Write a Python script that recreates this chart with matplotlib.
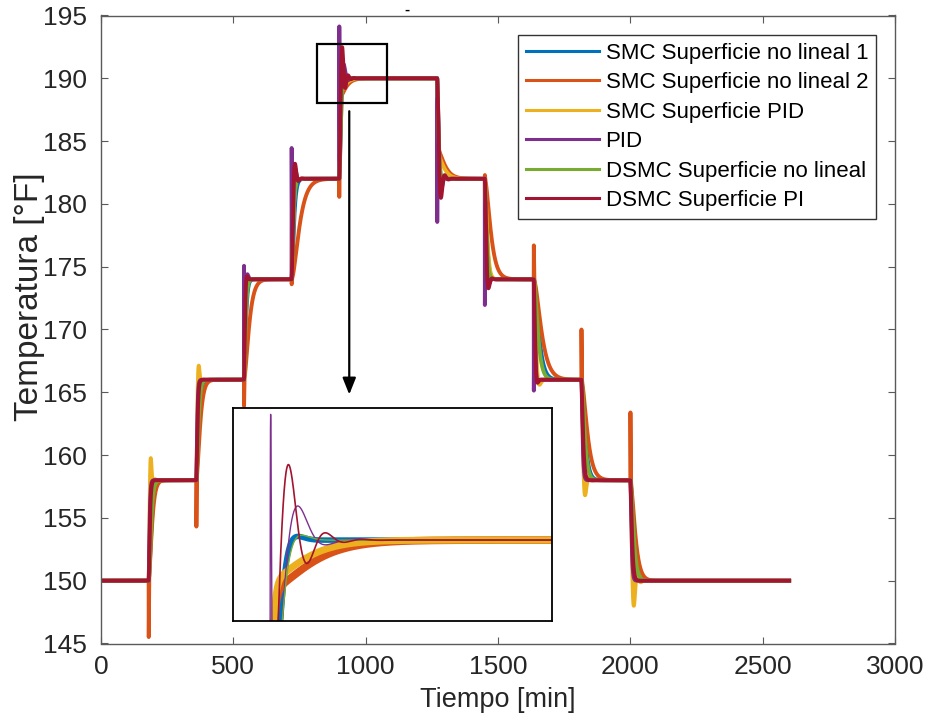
import numpy as np
import matplotlib
matplotlib.use("Agg")
import matplotlib.pyplot as plt
from matplotlib.patches import Rectangle

plt.rcParams['font.family'] = ['Liberation Sans', 'DejaVu Sans']

# Setpoint schedule [min] and temperature levels [°F]
step_times = [180, 360, 540, 720, 900, 1270, 1450, 1635, 1815, 2000]
setpoints = [150, 158, 166, 174, 182, 190, 182, 174, 166, 158, 150]
t_end = 2600

labels = ["SMC Superficie no lineal 1", "SMC Superficie no lineal 2",
          "SMC Superficie PID", "PID", "DSMC Superficie no lineal",
          "DSMC Superficie PI"]
colors = ["#0072BD", "#D95319", "#EDB120", "#7E2F8E", "#77AC30", "#A2142F"]

# Response of each controller to every setpoint change (one entry per change):
#   tau  : time constant of the dominant mode [min]
#   over : fractional overshoot of the dominant mode
#   slow : fraction of the change that follows the dominant mode
#   kick : brief excursion right after the change [°F] (+ along the change)
smc1 = dict(tau=[6, 5, 4, 5, 3.2, 3, 4.5, 11, 8, 7],
            over=[0, 0, 0, 0, 0.015, 0.04, 0, 0, 0, 0],
            slow=[1, 1, 1, 1, 1, 1, 1, 1, 1, 1],
            kick=[0, 0, 0, 0, 0, 0, 0, 0, 0, 0])
smc2 = dict(tau=[7, 8, 11, 17, 14, 16, 13, 17, 13, 10.5],
            over=[0, 0, 0, 0, 0, 0, 0, 0, 0, 0],
            slow=[1, 1, 1, 1, 0.2, 0.3, 1, 1, 1, 1],
            kick=[-4.5, -3.7, -2.1, -0.4, -2.7, 0, -0.3, -2.7, -4.0, -5.4])
smc_pid = dict(tau=[2.3, 2.5, 3, 3.5, 12, 14, 5, 5, 3.8, 3.8],
               over=[0.22, 0.14, 0.02, 0, 0, 0, 0, 0.05, 0.15, 0.25],
               slow=[1, 1, 1, 1, 0.16, 0.25, 1, 1, 1, 1],
               kick=[0, 0, 0, 0, 0, 0, 0, 0, 0, 0])
pid = dict(tau=[2, 2, 3, 3.5, 4.5, 4, 3.5, 3, 2.5, 2.5],
           over=[0, 0, 0.05, 0.1, 0.14, 0.1, 0.05, 0.02, 0, 0],
           slow=[1, 1, 1, 1, 1, 1, 1, 1, 1, 1],
           kick=[0, 0, 9, 10.4, 12.1, 11.4, 10, 8.8, 0, 0])
dsmc_nl = dict(tau=[5, 4.5, 3.5, 3.5, 3.8, 3, 4, 9, 7, 7],
               over=[0, 0, 0, 0, 0.02, 0, 0, 0, 0, 0],
               slow=[1, 1, 1, 1, 1, 1, 1, 1, 1, 1],
               kick=[0, 0, 0, 0, 0, 0, 0, 0, 0, 0])
dsmc_pi = dict(tau=[2.5, 2.5, 2.5, 3.5, 3.3, 4.0, 3.5, 3, 3.5, 3.5],
               over=[0, 0, 0.03, 0.15, 0.31, 0.19, 0.09, 0.03, 0, 0],
               slow=[1, 1, 1, 1, 1, 1, 1, 1, 1, 1],
               kick=[0, 0, 0, 0, 0, 0, 0, 0, 0, 0])
controllers = [smc1, smc2, smc_pid, pid, dsmc_nl, dsmc_pi]

FAST_TAU = 1.5   # fast part of the transition [min]
KICK_W = 0.4     # duration of the initial excursion [min]


def mode(s, tau, over):
    """Normalised error of a second-order mode (1 at s=0, 0 when settled)."""
    if over <= 0:
        x = s / tau
        return (1 + x) * np.exp(-x)
    lo = np.log(over)
    z = -lo / np.sqrt(np.pi ** 2 + lo ** 2)
    wn = 1.0 / tau
    wd = wn * np.sqrt(1 - z * z)
    return np.exp(-z * wn * s) * (np.cos(wd * s) + z / np.sqrt(1 - z * z) * np.sin(wd * s))


def response(p, t):
    y = np.full_like(t, setpoints[0], dtype=float)
    for k, t0 in enumerate(step_times):
        a, b = setpoints[k], setpoints[k + 1]
        d = np.sign(b - a)
        m = t >= t0
        s = t[m] - t0
        r = p["slow"][k]
        err = (a - b) * ((1 - r) * np.exp(-s / FAST_TAU) + r * mode(s, p["tau"][k], p["over"][k]))
        pulse = (s / KICK_W) * np.exp(1 - s / KICK_W)
        y[m] = b + err + d * p["kick"][k] * pulse
    return y


t = np.arange(0, t_end + 0.05, 0.1)
curves = [response(p, t) for p in controllers]

W, H = 925, 722
fig = plt.figure(figsize=(W / 100, H / 100), dpi=100)
ax_l, ax_r, ax_t, ax_b = 101, 895, 15.5, 643.5
ax = fig.add_axes([ax_l / W, 1 - ax_b / H, (ax_r - ax_l) / W, (ax_b - ax_t) / H])

for y, c, lab in zip(curves, colors, labels):
    ax.plot(t, y, color=c, lw=2.8, label=lab)

ax.set_xlim(0, 3000)
ax.set_ylim(145, 195)
ax.set_xticks(np.arange(0, 3001, 500))
ax.set_yticks(np.arange(145, 196, 5))
axis_col = "#262626"
for sp in ax.spines.values():
    sp.set_color("#5a5a5a")
    sp.set_linewidth(1.0)
ax.tick_params(direction="in", length=5, width=0.8, color="#5a5a5a",
               top=True, right=True, labelsize=19, labelcolor=axis_col)
ax.tick_params(axis="x", pad=8)
ax.tick_params(axis="y", pad=10)
ax.set_xlabel("Tiempo [min]", fontsize=19.5, color=axis_col, labelpad=6)
ax.set_ylabel("Temperatura [°F]", fontsize=24, color=axis_col)
ax.yaxis.set_label_coords(-0.071, 0.552)

leg = ax.legend(loc="upper right", bbox_to_anchor=((876 - ax_l) / (ax_r - ax_l), 1 - (35 - ax_t) / (ax_b - ax_t)),
                borderaxespad=0, fontsize=16, frameon=True, fancybox=False,
                framealpha=1, edgecolor="#333333", handlelength=3.3,
                handletextpad=0.3, labelspacing=0.38, borderpad=0.35)
leg.get_frame().set_linewidth(1.0)
for h in leg.get_lines():
    h.set_linewidth(2.2)

# Zoomed region around the 182 -> 190 °F change
ax.add_patch(Rectangle((816, 188.03), 265, 4.7, fill=False, ec="black", lw=1.6, zorder=10))
ax.annotate("", xy=(938, 164.6), xytext=(938, 187.6),
            arrowprops=dict(arrowstyle="-|>,head_length=1.0,head_width=0.4",
                            mutation_scale=10, color="black", lw=1.6),
            zorder=10)
ax.text(1156, 195.5, "-", ha="center", va="center", fontsize=11,
        fontweight="bold", color="black")

in_l, in_r, in_t, in_b = 233.3, 551.7, 408.3, 620.7
ax_in = fig.add_axes([in_l / W, 1 - in_b / H, (in_r - in_l) / W, (in_b - in_t) / H])
inset_lw = [4.0, 5.5, 5.0, 1.0, 1.0, 1.2]
for y, c, lw in zip(curves, colors, inset_lw):
    ax_in.plot(t, y, color=c, lw=lw)
ax_in.set_xlim(878, 1069)
ax_in.set_ylim(187.35, 194.33)
ax_in.set_xticks([])
ax_in.set_yticks([])
for sp in ax_in.spines.values():
    sp.set_color("black")
    sp.set_linewidth(1.3)

fig.savefig("out.png", dpi=100)
